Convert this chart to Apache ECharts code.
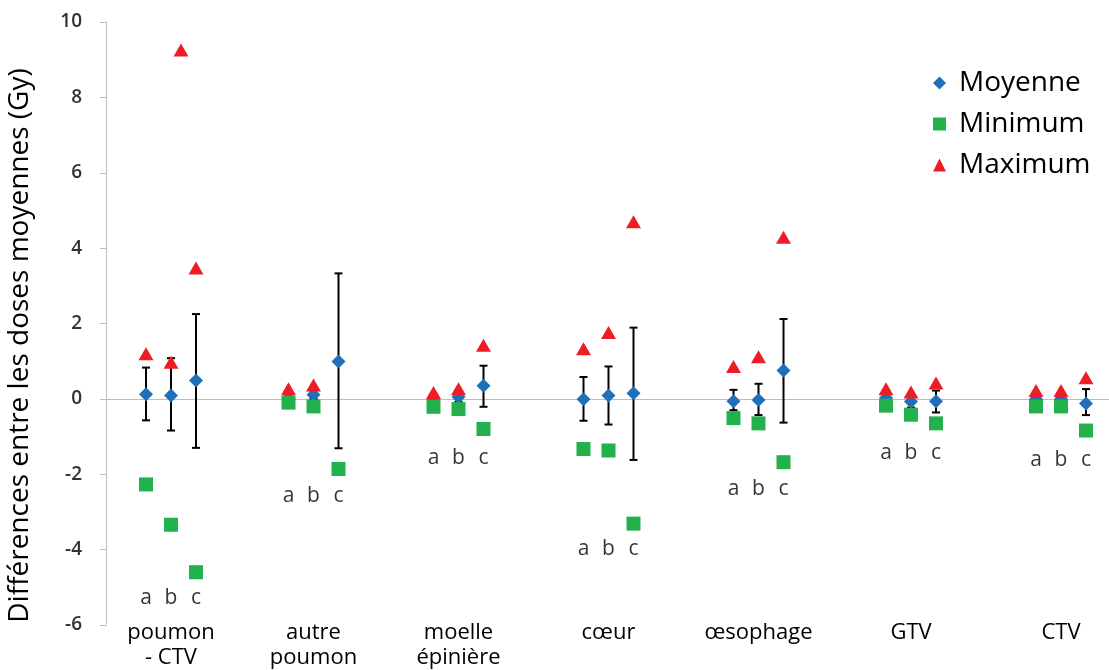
<!DOCTYPE html>
<html>
<head>
<meta charset="utf-8">
<script src="https://cdn.jsdelivr.net/npm/echarts@6/dist/echarts.min.js"></script>
<style>
html,body{margin:0;padding:0;background:#fff;}
#chart{width:1109px;height:670px;}
</style>
</head>
<body>
<div id="chart"></div>
<script>
// ---- data ----
const groups = ['poumon\n- CTV', 'autre\npoumon', 'moelle\népinière', 'cœur', 'œsophage', 'GTV', 'CTV'];
const subLabels = ['a', 'b', 'c'];
// x value of sub-position "a" for each group (b = +1, c = +2)
const groupX = [1.6, 7.3, 13.1, 19.1, 25.1, 31.2, 37.2];
const meanVals = [
  [0.12, 0.09, 0.49],
  [0.00, 0.11, 0.99],
  [0.00, 0.05, 0.35],
  [-0.01, 0.09, 0.15],
  [-0.06, -0.03, 0.75],
  [0.03, -0.07, -0.06],
  [0.00, 0.00, -0.12]
];
const errLow = [
  [-0.57, -0.84, -1.30],
  [-0.10, 0.00, -1.31],
  [-0.12, -0.08, -0.21],
  [-0.58, -0.68, -1.62],
  [-0.30, -0.43, -0.63],
  [-0.10, -0.23, -0.36],
  [-0.12, -0.12, -0.43]
];
const errHigh = [
  [0.83, 1.08, 2.25],
  [0.10, 0.20, 3.33],
  [0.12, 0.18, 0.88],
  [0.58, 0.86, 1.89],
  [0.24, 0.40, 2.12],
  [0.14, 0.08, 0.22],
  [0.12, 0.12, 0.26]
];
const minVals = [
  [-2.27, -3.34, -4.60],
  [-0.10, -0.20, -1.86],
  [-0.21, -0.27, -0.80],
  [-1.33, -1.37, -3.31],
  [-0.51, -0.65, -1.68],
  [-0.18, -0.42, -0.65],
  [-0.20, -0.20, -0.84]
];
const maxVals = [
  [1.20, 0.97, 3.47],
  [0.27, 0.37, null],
  [0.17, 0.27, 1.42],
  [1.33, 1.76, 4.70],
  [0.86, 1.12, 4.29],
  [0.27, 0.18, 0.42],
  [0.22, 0.22, 0.56]
];
const maxOutlier = { x: 3.0, value: 9.26 };
const abcLevels = [-5.28, -2.58, -1.57, -3.98, -2.39, -1.43, -1.62];
const yTicks = { min: -6, max: 10, interval: 2 };

// ---- build series data ----
const meanData = [], minData = [], maxData = [], errData = [], abcData = [];
groups.forEach((g, gi) => {
  subLabels.forEach((s, si) => {
    const x = groupX[gi] + si;
    meanData.push([x, meanVals[gi][si]]);
    minData.push([x, minVals[gi][si]]);
    if (maxVals[gi][si] !== null) maxData.push([x, maxVals[gi][si]]);
    errData.push([x, errLow[gi][si], errHigh[gi][si]]);
    abcData.push([x, abcLevels[gi], s]);
  });
});
maxData.push([maxOutlier.x, maxOutlier.value]);
const catCenters = groupX.map(v => v + 1);

const FONT = 'Open Sans';
const chart = echarts.init(document.getElementById('chart'));
chart.setOption({
  animation: false,
  backgroundColor: '#fff',
  grid: { left: 106, right: 0, top: 22, bottom: 45, containLabel: false, outerBoundsMode: 'none' },
  legend: {
    orient: 'vertical',
    left: 928,
    top: 62,
    itemWidth: 13,
    itemHeight: 13,
    itemGap: 9,
    textStyle: { fontFamily: FONT, fontSize: 28, color: '#000', lineHeight: 32, padding: [0, 0, 0, 8] },
    data: [
      { name: 'Moyenne', icon: 'diamond' },
      { name: 'Minimum', icon: 'rect' },
      { name: 'Maximum', icon: 'triangle' }
    ]
  },
  xAxis: [
    {
      type: 'value', min: 0, max: 40.12,
      axisLine: { show: true, onZero: true, lineStyle: { color: '#bdbdbd', width: 1 } },
      axisTick: { show: false }, axisLabel: { show: false }, splitLine: { show: false }
    },
    {
      type: 'value', min: 0, max: 40.12, position: 'bottom',
      axisLine: { show: false }, axisTick: { show: false }, splitLine: { show: false },
      axisLabel: {
        show: true, customValues: catCenters, margin: -5,
        fontFamily: FONT, fontSize: 22, lineHeight: 25, color: '#000', verticalAlign: 'top',
        formatter: (v) => { const i = catCenters.findIndex(c => Math.abs(c - v) < 1e-6); return i >= 0 ? groups[i] : ''; }
      }
    }
  ],
  yAxis: {
    type: 'value', min: yTicks.min, max: yTicks.max, interval: yTicks.interval,
    name: 'Différences entre les doses moyennes (Gy)', nameLocation: 'middle', nameGap: 72,
    nameTextStyle: { fontFamily: FONT, fontSize: 28, color: '#000', padding: [0, 44, 0, 0] },
    axisLine: { show: true, onZero: false, lineStyle: { color: '#bdbdbd', width: 1 } },
    axisTick: { show: true, length: 6, lineStyle: { color: '#bdbdbd' } },
    axisLabel: { fontFamily: FONT, fontSize: 19, fontWeight: 600, color: '#333', margin: 24 },
    splitLine: { show: false }
  },
  series: [
    {
      type: 'custom', name: 'err', xAxisIndex: 0, z: 1,
      encode: { x: 0, y: [1, 2] },
      data: errData,
      renderItem: (params, api) => {
        const x = api.value(0), lo = api.value(1), hi = api.value(2);
        const a = api.coord([x, lo]), b = api.coord([x, hi]);
        const w = 4;
        const st = { stroke: '#000', lineWidth: 2 };
        return {
          type: 'group', children: [
            { type: 'line', shape: { x1: a[0], y1: a[1], x2: b[0], y2: b[1] }, style: st },
            { type: 'line', shape: { x1: a[0] - w, y1: a[1], x2: a[0] + w, y2: a[1] }, style: st },
            { type: 'line', shape: { x1: b[0] - w, y1: b[1], x2: b[0] + w, y2: b[1] }, style: st }
          ]
        };
      }
    },
    {
      type: 'scatter', name: 'Moyenne', symbol: 'diamond', symbolSize: 14, z: 2,
      itemStyle: { color: '#1f70b9', opacity: 1 }, data: meanData
    },
    {
      type: 'scatter', name: 'Minimum', symbol: 'rect', symbolSize: 14, z: 3,
      itemStyle: { color: '#22b14c', opacity: 1 }, data: minData
    },
    {
      type: 'scatter', name: 'Maximum', symbol: 'triangle', symbolSize: [15, 13], z: 4,
      itemStyle: { color: '#ee1c25', opacity: 1 }, data: maxData
    },
    {
      type: 'scatter', name: 'abc', symbolSize: 0, z: 5, silent: true,
      data: abcData,
      label: {
        show: true, position: 'inside', formatter: (p) => p.data[2],
        fontFamily: FONT, fontSize: 21, color: '#000', textBorderWidth: 0
      }
    }
  ]
});
</script>
</body>
</html>
